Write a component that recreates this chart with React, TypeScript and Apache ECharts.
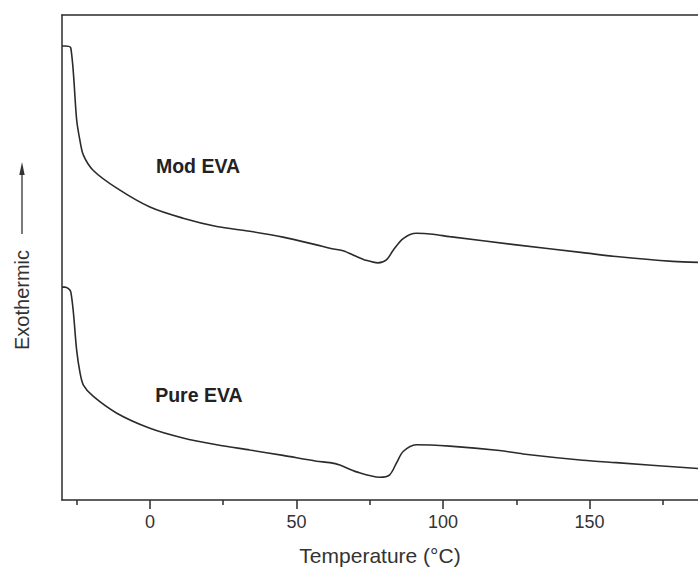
import React, { useEffect, useRef } from "react";
import * as echarts from "echarts";

// Temperature (°C) and heat-flow (arbitrary units)
const modTemp = [-30, -29, -27, -25, -23.9, -22.7, -19.4, -11.3, 0, 11.3, 22.8, 34.1, 45.4, 56.8, 61.4, 65.9, 70.5, 73.3, 77.8, 80.7, 83.0, 86.4, 90.9, 96.6, 102.3, 125.0, 147.7, 159.1, 178.4, 187];
const modFlow = [93.6, 93.6, 93.2, 78.4, 74.2, 71.1, 68.0, 64.3, 60.4, 58.1, 56.4, 55.4, 54.2, 52.6, 51.9, 51.4, 50.2, 49.5, 48.9, 49.5, 51.5, 53.9, 55.0, 54.8, 54.3, 52.6, 51.0, 50.2, 49.2, 49.0];

const pureTemp = [-30, -29, -27, -25, -23.9, -22.7, -19.4, -11.3, 0, 11.3, 22.8, 34.1, 45.4, 56.8, 61.4, 64.8, 70.5, 78.4, 81.8, 84.1, 86.4, 90.9, 102.3, 119.3, 127.3, 147.7, 159.1, 187];
const pureFlow = [43.9, 43.9, 42.9, 30.9, 26.4, 23.7, 21.4, 17.9, 14.8, 12.8, 11.4, 10.3, 9.2, 8.0, 7.7, 7.2, 5.8, 4.7, 5.2, 7.6, 10.0, 11.4, 11.1, 10.2, 9.5, 8.2, 7.7, 6.5];

const majorTicks = [0, 50, 100, 150];
const minorTicks = [-25, 25, 75, 125, 175];
const seriesNames = ["Mod EVA", "Pure EVA"];
const labelAnchors = [
  [16.4, 68.8],
  [16.7, 21.6],
];

const FONT = "'Liberation Sans', Arial, Helvetica, sans-serif";
const INK = "#2b2b2b";

export default function App() {
  const ref = useRef<HTMLDivElement>(null);

  useEffect(() => {
    document.body.style.margin = "0";
    if (!ref.current) return;
    const chart = echarts.init(ref.current, undefined, { renderer: "svg" });

    const pairs = (xs: number[], ys: number[]) => xs.map((x, i) => [x, ys[i]]);

    const mkSeries = (name: string, data: number[][], anchor: number[]) => ({
      name,
      type: "line",
      data,
      smooth: 0.3,
      showSymbol: false,
      symbol: "none",
      lineStyle: { color: INK, width: 1.6 },
      markPoint: {
        symbol: "circle",
        symbolSize: 0,
        label: {
          show: true,
          position: "inside",
          formatter: name,
          color: "#222",
          fontFamily: FONT,
          fontWeight: "bold",
          fontSize: 19.5,
        },
        data: [{ coord: anchor }],
      },
    });

    chart.setOption({
      animation: false,
      backgroundColor: "#ffffff",
      grid: { left: 62, right: 0, top: 15, bottom: 76, containLabel: false },
      xAxis: [
        {
          type: "value",
          min: -30,
          max: 187,
          position: "bottom",
          name: "Temperature (°C)",
          nameLocation: "middle",
          nameGap: 45,
          nameTextStyle: { fontFamily: FONT, fontSize: 21, color: "#333" },
          axisLine: { show: true, onZero: false, lineStyle: { color: INK, width: 1.5 } },
          axisTick: { show: true, inside: false, length: 9, customValues: majorTicks, lineStyle: { color: INK, width: 1.5 } },
          axisLabel: { show: true, customValues: majorTicks, margin: 13, fontFamily: FONT, fontSize: 18, color: "#333" },
          splitLine: { show: false },
        },
        {
          type: "value",
          min: -30,
          max: 187,
          position: "bottom",
          axisLine: { show: false, onZero: false },
          axisTick: { show: true, inside: false, length: 5, customValues: minorTicks, lineStyle: { color: INK, width: 1.5 } },
          axisLabel: { show: false },
          splitLine: { show: false },
        },
        {
          type: "value",
          min: -30,
          max: 187,
          position: "top",
          axisLine: { show: true, onZero: false, lineStyle: { color: INK, width: 1.5 } },
          axisTick: { show: false },
          axisLabel: { show: false },
          splitLine: { show: false },
        },
      ],
      yAxis: {
        type: "value",
        min: 0,
        max: 100,
        position: "left",
        axisLine: { show: true, onZero: false, lineStyle: { color: INK, width: 1.5 } },
        axisTick: { show: false },
        axisLabel: { show: false },
        splitLine: { show: false },
      },
      graphic: [
        {
          type: "text",
          x: 22,
          y: 300,
          rotation: Math.PI / 2,
          style: {
            text: "Exothermic",
            fontFamily: FONT,
            fontSize: 20,
            fill: "#333",
            align: "center",
            verticalAlign: "middle",
          },
        },
        {
          type: "line",
          shape: { x1: 22, y1: 234, x2: 22, y2: 172 },
          style: { stroke: "#333", lineWidth: 1.3 },
        },
        {
          type: "polygon",
          shape: { points: [[22, 162], [19.3, 175], [24.7, 175]] },
          style: { fill: "#333" },
        },
      ],
      series: [
        mkSeries(seriesNames[0], pairs(modTemp, modFlow), labelAnchors[0]),
        mkSeries(seriesNames[1], pairs(pureTemp, pureFlow), labelAnchors[1]),
      ],
    });

    return () => chart.dispose();
  }, []);

  return <div ref={ref} style={{ width: 698, height: 576 }} />;
}
